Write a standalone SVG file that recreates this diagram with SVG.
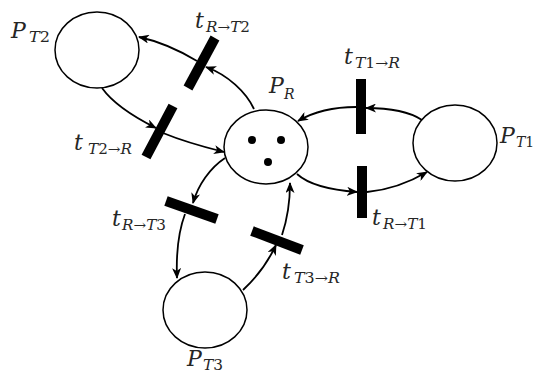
<svg xmlns="http://www.w3.org/2000/svg" width="534" height="374" viewBox="0 0 534 374">
<defs>
<marker id="arr" markerWidth="11" markerHeight="9" refX="10" refY="4.5" orient="auto" markerUnits="userSpaceOnUse">
<path d="M0,0 L11,4.5 L0,9 L3,4.5 z" fill="#000"/>
</marker>
<style>
.place{fill:#fff;stroke:#000;stroke-width:1.5}
.bar{stroke:#000;stroke-width:10;fill:none}
.arc{fill:none;stroke:#000;stroke-width:1.8;marker-end:url(#arr)}
.tok{fill:#000}
text{font-family:"DejaVu Serif","Liberation Serif",serif;fill:#262626}
.m{font-size:22px;font-style:italic}
.s{font-size:14px}
.i{font-style:italic}
</style>
</defs>
<rect width="534" height="374" fill="#fff"/>
<g id="connectors">
<path class="arc" d="M254,109 C246,92 228,75 206,67"/>
<path class="arc" d="M197,61 C182,52 162,42 139,37"/>
<path class="arc" d="M102,88 C112,102 132,116 156,128"/>
<path class="arc" d="M163,133 C180,140 200,146 224,152"/>
<path class="arc" d="M422,120 C410,112 392,108 366,108"/>
<path class="arc" d="M356,107 C335,107 315,111 298,121"/>
<path class="arc" d="M297,174 C308,184 330,190 357,192"/>
<path class="arc" d="M367,192 C388,190 410,182 427,172"/>
<path class="arc" d="M225,158 C210,168 198,185 193,203"/>
<path class="arc" d="M185,214 C179,230 176,252 177,278"/>
<path class="arc" d="M243,290 C256,278 268,262 276,245"/>
<path class="arc" d="M282,235 C287,220 290,200 290,183"/>
</g>
<g id="P_T2"><ellipse class="place" cx="97" cy="50" rx="42" ry="38"/>
<text x="11" y="38"><tspan class="m">P</tspan><tspan class="s" x="29" y="42" textLength="21" lengthAdjust="spacingAndGlyphs"><tspan class="i">T</tspan>2</tspan></text></g>
<g id="P_R"><ellipse class="place" cx="266" cy="147" rx="42" ry="37"/>
<circle class="tok" cx="252" cy="140" r="4"/><circle class="tok" cx="281" cy="140" r="4"/><circle class="tok" cx="268" cy="162" r="4"/>
<text x="269" y="93"><tspan class="m">P</tspan><tspan class="s i" x="284" y="99">R</tspan></text></g>
<g id="P_T1"><ellipse class="place" cx="455" cy="143" rx="42" ry="38"/>
<text x="500" y="143"><tspan class="m">P</tspan><tspan class="s" x="516" y="147"><tspan class="i">T</tspan>1</tspan></text></g>
<g id="P_T3"><ellipse class="place" cx="205" cy="310" rx="42" ry="38"/>
<text x="187" y="366"><tspan class="m">P</tspan><tspan class="s" x="203" y="370" textLength="20" lengthAdjust="spacingAndGlyphs"><tspan class="i">T</tspan>3</tspan></text></g>
<g id="t_R_T2"><line class="bar" x1="215" y1="38" x2="188" y2="88"/>
<text x="195" y="28"><tspan class="m">t</tspan><tspan class="s" x="206" y="32" textLength="44" lengthAdjust="spacingAndGlyphs"><tspan class="i">R</tspan>→<tspan class="i">T</tspan>2</tspan></text></g>
<g id="t_T2_R"><line class="bar" x1="173" y1="106" x2="146" y2="157"/>
<text x="74" y="150"><tspan class="m">t</tspan><tspan class="s" x="88" y="154" textLength="44" lengthAdjust="spacingAndGlyphs"><tspan class="i">T</tspan>2→<tspan class="i">R</tspan></tspan></text></g>
<g id="t_T1_R"><line class="bar" x1="361" y1="79" x2="361" y2="134"/>
<text x="344" y="64"><tspan class="m">t</tspan><tspan class="s" x="355" y="68" textLength="45" lengthAdjust="spacingAndGlyphs"><tspan class="i">T</tspan>1→<tspan class="i">R</tspan></tspan></text></g>
<g id="t_R_T1"><line class="bar" x1="362" y1="166" x2="362" y2="218"/>
<text x="372" y="225"><tspan class="m">t</tspan><tspan class="s" x="383" y="229" textLength="44" lengthAdjust="spacingAndGlyphs"><tspan class="i">R</tspan>→<tspan class="i">T</tspan>1</tspan></text></g>
<g id="t_R_T3"><line class="bar" x1="166" y1="201" x2="217" y2="219"/>
<text x="112" y="226"><tspan class="m">t</tspan><tspan class="s" x="122" y="230" textLength="44" lengthAdjust="spacingAndGlyphs"><tspan class="i">R</tspan>→<tspan class="i">T</tspan>3</tspan></text></g>
<g id="t_T3_R"><line class="bar" x1="252" y1="231" x2="302" y2="250"/>
<text x="282" y="279"><tspan class="m">t</tspan><tspan class="s" x="294" y="283" textLength="46" lengthAdjust="spacingAndGlyphs"><tspan class="i">T</tspan>3→<tspan class="i">R</tspan></tspan></text></g>
</svg>
